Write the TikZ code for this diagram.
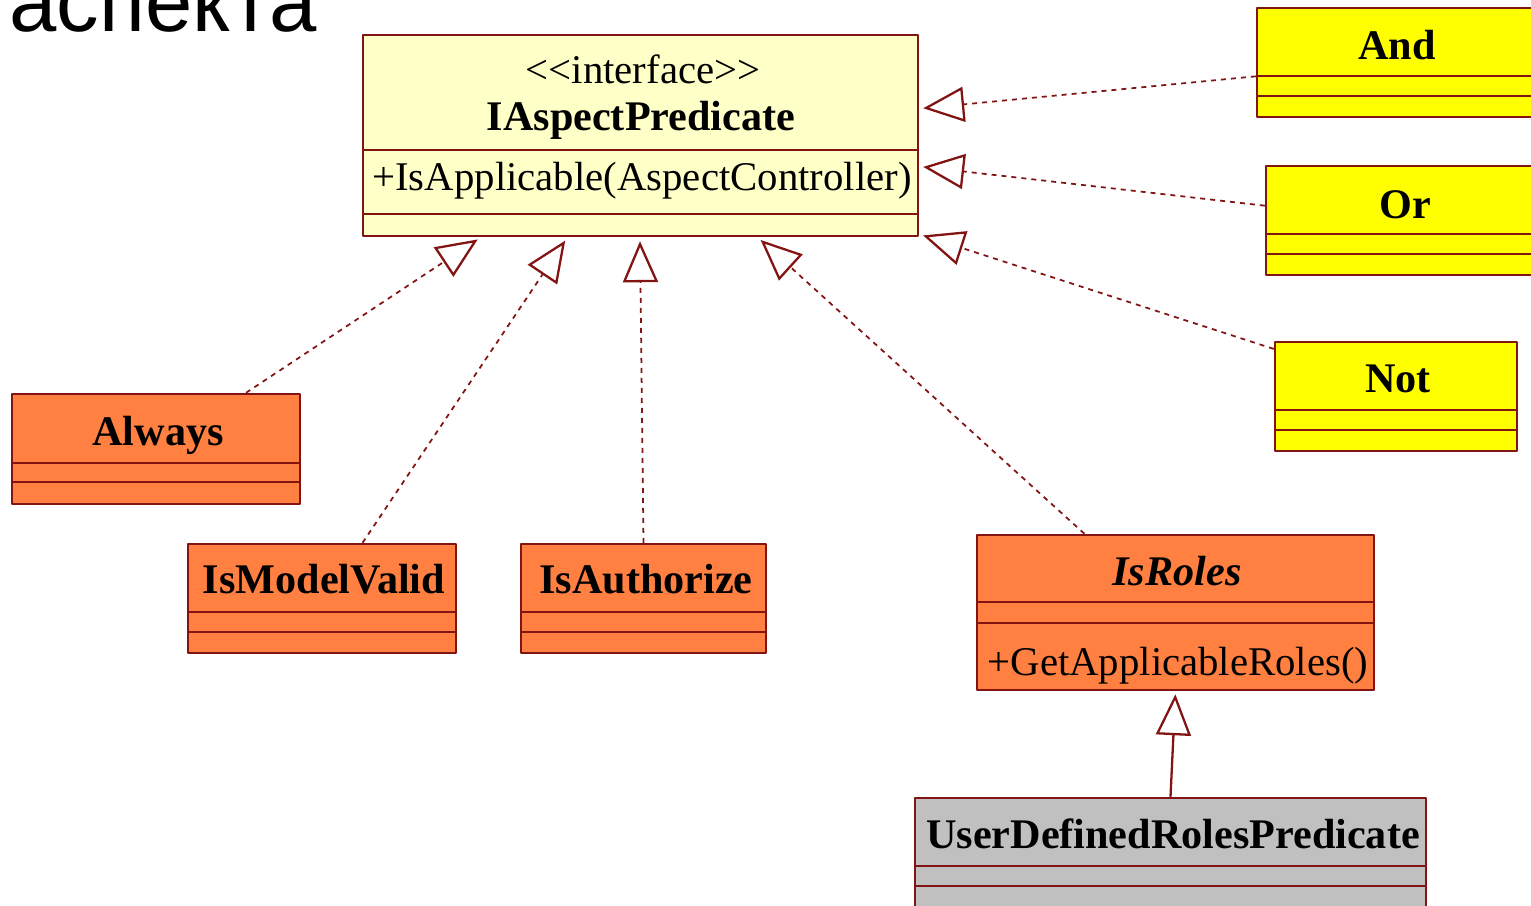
\documentclass[tikz,border=0pt]{standalone}
\usepackage{fontspec}
\setmainfont{Liberation Serif}
\newfontfamily\headfont{Liberation Sans}
\usetikzlibrary{arrows.meta,calc,fit}
\definecolor{umlred}{RGB}{130,20,20}
\definecolor{ifacefill}{RGB}{255,255,200}
\definecolor{clsorange}{RGB}{255,128,64}
\definecolor{clsyellow}{RGB}{255,255,0}
\definecolor{clsgray}{RGB}{192,192,192}
\tikzset{
  classbox/.style={draw=umlred, line width=0.7pt, inner sep=0pt},
  sepline/.style={draw=umlred, line width=0.7pt},
  cname/.style={font=\fontsize{12}{14}\selectfont\bfseries, anchor=base, inner sep=0pt},
  cop/.style={font=\fontsize{11.6}{14}\selectfont, anchor=base, inner sep=0pt},
  realize/.style={draw=umlred, line width=0.5pt, dash pattern=on 0.5mm off 0.5mm,
    -{Triangle[open, length=4.1mm, width=3.5mm, fill=white, line width=0.65pt]}, shorten >=0.4mm},
  inherit/.style={draw=umlred, line width=0.65pt,
    -{Triangle[open, length=4.1mm, width=3.5mm, fill=white, line width=0.65pt]}, shorten >=0.3mm}
}
% name, fill, corners, y of the two compartment lines
\newcommand\umlclass[8]{%
  \node[classbox, fill=#2, fit={(#3,#4) (#5,#6)}] (#1) {};
  \draw[sepline] (#3,#7) -- (#5,#7) (#3,#8) -- (#5,#8);
}
\begin{document}
\begin{tikzpicture}[x=0.1mm, y=-0.1mm, line join=round, >=stealth]
  \useasboundingbox (0,0) rectangle (1531,905);
  \node[anchor=base west, inner sep=0pt, font=\headfont\fontsize{24.2}{29}\selectfont] (heading) at (9,31) {аспекта};

  % interface
  \umlclass{iface}{ifacefill}{363}{35}{918}{236}{150}{214}
  \node[cop] (iface-st) at (643,83) {\mbox{<}\mbox{<}interface\mbox{>}\mbox{>}};
  \node[cname] (iface-t) at (641,130) {IAspectPredicate};
  \node[cop] (iface-op) at (642,190) {+IsApplicable(AspectController)};

  % combinators
  \umlclass{and}{clsyellow}{1257}{8}{1545}{117}{76}{96}
  \node[cname] (and-t) at (1397,59) {And};
  \umlclass{or}{clsyellow}{1266}{166}{1545}{275}{234}{254}
  \node[cname] (or-t) at (1405,218) {Or};
  \umlclass{not}{clsyellow}{1275}{342}{1517}{451}{410}{430}
  \node[cname] (not-t) at (1398,392) {Not};

  % predicates
  \umlclass{always}{clsorange}{12}{394}{300}{504}{463}{482}
  \node[cname] (always-t) at (158,445) {Always};
  \umlclass{model}{clsorange}{188}{544}{456}{653}{612}{632}
  \node[cname] (model-t) at (324,593) {IsModelValid};
  \umlclass{auth}{clsorange}{521}{544}{766}{653}{612}{632}
  \node[cname] (auth-t) at (646,593) {IsAuthorize};
  \umlclass{roles}{clsorange}{977}{535}{1374}{690}{602}{623}
  \node[cname, font=\fontsize{12}{14}\selectfont\bfseries\itshape] (roles-t) at (1177,585) {IsRoles};
  \node[cop] (roles-op) at (1178,675) {+GetApplicableRoles()};
  \umlclass{udr}{clsgray}{915}{798}{1426}{930}{866}{886}
  \node[cname] (udr-t) at (1173,848) {UserDefinedRolesPredicate};

  % realizations
  \draw[realize] ($(always.north west)!0.81!(always.north east)$) -- ($(iface.south west)!0.214!(iface.south east)$);
  \draw[realize] ($(model.north west)!0.65!(model.north east)$) -- ($(iface.south west)!0.369!(iface.south east)$);
  \draw[realize] (auth.north) -- ($(iface.south west)!0.499!(iface.south east)$);
  \draw[realize] ($(roles.north west)!0.272!(roles.north east)$) -- ($(iface.south west)!0.71!(iface.south east)$);
  \draw[realize] ($(and.north west)!0.624!(and.south west)$) -- ($(iface.north east)!0.368!(iface.south east)$);
  \draw[realize] ($(or.north west)!0.367!(or.south west)$) -- ($(iface.north east)!0.652!(iface.south east)$);
  \draw[realize] ($(not.north west)!0.073!(not.south west)$) -- ($(iface.north east)!0.985!(iface.south east)$);

  % generalization
  \draw[inherit] (udr.north) -- (roles.south);
\end{tikzpicture}
\end{document}
